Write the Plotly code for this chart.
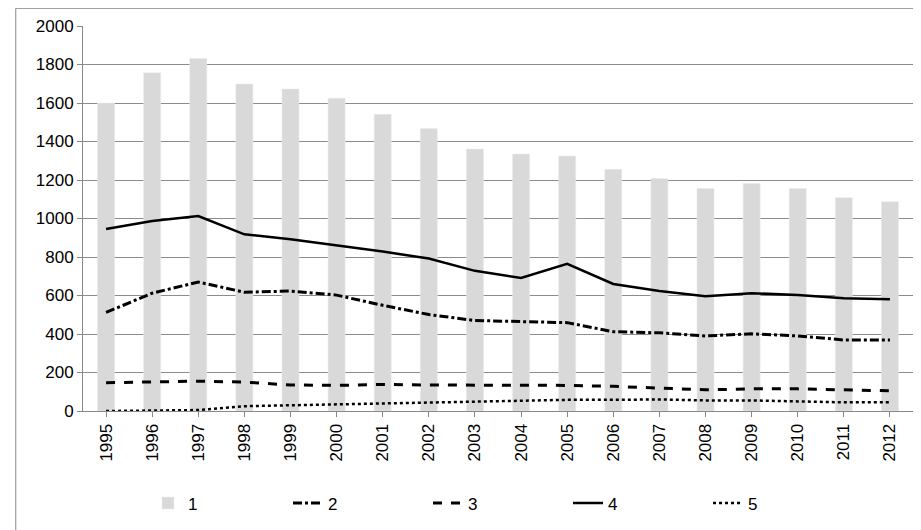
import plotly.graph_objects as go

years = [str(y) for y in range(1995, 2013)]
s1 = [1600, 1757, 1831, 1699, 1673, 1625, 1541, 1467, 1361, 1335, 1325, 1256, 1208, 1156, 1182, 1156, 1108, 1087]
s2 = [512, 612, 670, 617, 623, 602, 549, 501, 470, 464, 459, 412, 406, 390, 401, 390, 369, 369]
s3 = [147, 150, 155, 150, 135, 133, 138, 135, 135, 135, 133, 128, 120, 110, 115, 115, 110, 105]
s4 = [945, 987, 1013, 918, 892, 860, 828, 792, 728, 691, 765, 660, 623, 596, 612, 602, 586, 580]
s5 = [0, 2, 5, 25, 30, 35, 40, 45, 48, 55, 58, 58, 60, 55, 55, 50, 45, 45]

fig = go.Figure()
fig.add_trace(go.Bar(x=years, y=s1, name="1", marker_color="#d9d9d9", width=0.37))
fig.add_trace(go.Scatter(x=years, y=s2, name="2", mode="lines",
                         line=dict(color="black", width=3, dash="dashdot")))
fig.add_trace(go.Scatter(x=years, y=s3, name="3", mode="lines",
                         line=dict(color="black", width=3, dash="dash")))
fig.add_trace(go.Scatter(x=years, y=s4, name="4", mode="lines",
                         line=dict(color="black", width=2.5)))
fig.add_trace(go.Scatter(x=years, y=s5, name="5", mode="lines",
                         line=dict(color="black", width=2.5, dash="dot")))

fig.update_layout(
    width=921, height=530,
    margin=dict(l=75, r=16, t=18, b=127, autoexpand=False),
    plot_bgcolor="white", paper_bgcolor="white",
    font=dict(family="Liberation Sans, Arial", size=17, color="black"),
    xaxis=dict(tickangle=-90, showline=True, linecolor="#888", ticks="outside",
               tickcolor="#888", ticklen=5, showgrid=False),
    yaxis=dict(range=[0, 2000], dtick=200, showgrid=True, gridcolor="#8c8c8c", gridwidth=1,
               showline=True, linecolor="#888", ticks="outside", tickcolor="#888",
               zeroline=False, layer="below traces"),
    legend=dict(orientation="h", x=0.5, xanchor="center", y=-0.24, yanchor="middle",
                font=dict(size=17), entrywidth=95),
    shapes=[dict(type="rect", xref="paper", yref="paper", x0=-0.081, x1=1.017,
                 y0=-0.33, y1=1.046, line=dict(color="#888", width=1))],
)

fig.write_html("out.html")
